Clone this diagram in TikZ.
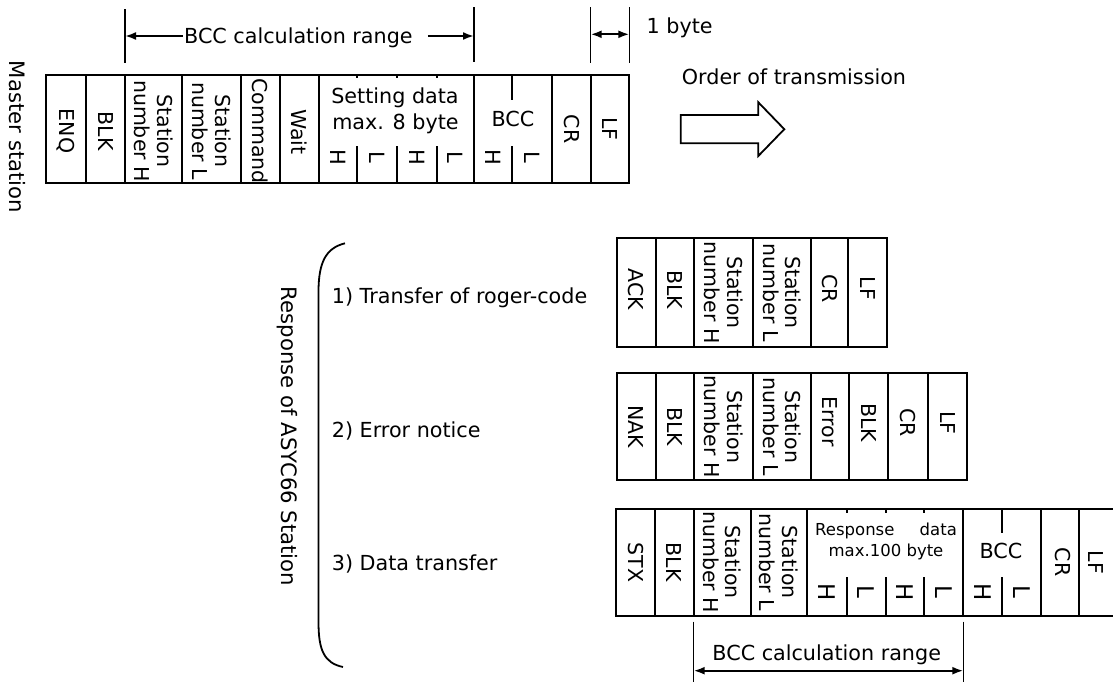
\documentclass[tikz,border=0pt]{standalone}
\usepackage{fontspec}
\setmainfont{DejaVu Sans}
\usetikzlibrary{arrows.meta,calc}

\tikzset{
  cellbox/.style={draw, line width=2pt, inner sep=0pt, outer sep=0pt},
  subline/.style={line width=2pt},
  vtext/.style={rotate=-90, align=center, inner sep=0pt, font=\fontsize{20.5}{22.7}\selectfont},
  vtitle/.style={rotate=-90, inner sep=0pt, font=\fontsize{21.2}{24}\selectfont},
  vsmall/.style={rotate=-90, inner sep=0pt, font=\fontsize{21}{24}\selectfont},
  vmid/.style={rotate=-90, inner sep=0pt, font=\fontsize{23}{26}\selectfont},
  htext/.style={inner sep=0pt, font=\fontsize{20.7}{24}\selectfont},
  hsmall/.style={inner sep=0pt, font=\fontsize{16.5}{20}\selectfont},
  rangeline/.style={line width=1.4pt},
  onearrow/.style={line width=2pt, -{Latex[length=11pt,width=8pt]}},
  twoarrow/.style={line width=2pt, {Latex[length=11pt,width=8pt]}-{Latex[length=11pt,width=8pt]}},
  bracepath/.style={line width=1.8pt},
  hollowarrow/.style={line width=1.8pt, line join=miter},
}

% one field of a telegram: name, left, top, right, bottom
\newcommand\fieldcell[5]{%
  \node[cellbox, anchor=north west,
        minimum width={(#4-#2)*1pt}, minimum height={(#5-#3)*1pt}] (#1) at (#2,#3) {};}

\begin{document}
\begin{tikzpicture}[x=1pt,y=-1pt]
\clip (0,0) rectangle (1113,682);

% ---------------- master station telegram ----------------
\node[vtitle, anchor=base] (mastT) at (9.5,137) {Master station};

\fieldcell{enq}{45.7}{75}{86}{183}
\fieldcell{blk}{86}{75}{125}{183}
\fieldcell{snh}{125}{75}{182.3}{183}
\fieldcell{snl}{182.3}{75}{241}{183}
\fieldcell{cmd}{241}{75}{280}{183}
\fieldcell{wait}{280}{75}{319}{183}
\fieldcell{sdata}{319}{75}{474}{183}
\fieldcell{bcc}{474}{75}{552.3}{183}
\fieldcell{cr}{552.3}{75}{590.7}{183}
\fieldcell{lf}{590.7}{75}{629.3}{183}

\node[vtext] (enqT) at ($(enq.center)+(0,2)$) {ENQ};
\node[vtext] (blkT) at ($(blk.center)+(0,2)$) {BLK};
\node[vtext] (snhT) at ($(snh.center)+(0,2)$) {Station\\number H};
\node[vtext] (snlT) at ($(snl.center)+(0,2)$) {Station\\number L};
\node[vtext] (cmdT) at ($(cmd.center)+(0,2)$) {Command};
\node[vtext] (waitT) at ($(wait.center)+(0,3)$) {Wait};
\node[htext, anchor=base] (sdT1) at (395,104) {Setting data};
\node[htext, anchor=base] (sdT2) at (395.5,130) {max. 8 byte};
\node[htext, anchor=base] (bccT) at (513,126.7) {BCC};
\node[vtext] (crT) at (cr.center) {CR};
\node[vtext] (lfT) at (lf.center) {LF};

% H/L halves of the data and BCC fields
\foreach \xx in {357.3,396.7,436.7} {
  \draw[subline] (\xx,146) -- (\xx,183);
  \draw[subline] (\xx,75) -- (\xx,78.5);
}
\draw[subline] (512.3,75) -- (512.3,100);
\draw[subline] (512.3,146) -- (512.3,183);
\node[vsmall] (sdH1) at (338.2,157) {H};
\node[vsmall] (sdL1) at (377,157) {L};
\node[vsmall] (sdH2) at (416.7,157) {H};
\node[vsmall] (sdL2) at (455.3,157) {L};
\node[vsmall] (bcH) at (493.2,157) {H};
\node[vsmall] (bcL) at (532.3,157) {L};

% BCC calculation range above the telegram
\coordinate (rgA) at ($(snh.north west)+(0,-12)$);
\coordinate (rgB) at ($(sdata.north east)+(0,-13)$);
\draw[rangeline] (rgA) -- ++(0,-54);
\draw[rangeline] (rgB) -- ++(0,-55);
\node[htext, anchor=base] (rangeT) at (298.4,43.3) {BCC calculation range};
\coordinate (rgAl) at (125,36);
\coordinate (rgBl) at (474,36);
\draw[onearrow] ([xshift=-1pt]rangeT.west |- rgAl) -- (rgAl);
\draw[onearrow] ([xshift=15pt]rangeT.east |- rgBl) -- (rgBl);

% one byte width
\coordinate (byA) at ($(lf.north west)+(0,-12)$);
\coordinate (byB) at ($(lf.north east)+(0,-12)$);
\draw[rangeline] (byA) -- ++(0,-56);
\draw[rangeline] (byB) -- ++(0,-56);
\coordinate (byAl) at (590.7,34.3);
\coordinate (byBl) at (629.3,34.3);
\draw[twoarrow] (byAl) -- (byBl);
\node[htext, anchor=base west] (byteT) at (646.5,33.3) {1 byte};

% order of transmission
\node[htext, anchor=base west] (orderT) at (681.7,85) {Order of transmission};
\draw[hollowarrow] (680.7,115) -- (758.3,115) -- (758.3,102.3) -- (784.3,129.2)
  -- (758.3,156) -- (758.3,143.3) -- (680.7,143.3) -- cycle;

% ---------------- responses of the station ----------------
\node[vtitle, anchor=base] (respT) at (281.7,436.5) {Response of ASYC66 Station};
\draw[bracepath] (345,243.3) .. controls (326,248) and (318.5,262) .. (318.5,292)
  -- (318.5,622) .. controls (318.5,650) and (324,663) .. (343,667);

\node[htext, anchor=base west] (case1) at (331.7,303) {1) Transfer of roger-code};
\node[htext, anchor=base west] (case2) at (331.7,437.3) {2) Error notice};
\node[htext, anchor=base west] (case3) at (331.7,570) {3) Data transfer};

% 1) acknowledge
\fieldcell{ack}{616.7}{238.3}{656}{346.7}
\fieldcell{blkA}{656}{238.3}{694.3}{346.7}
\fieldcell{snhA}{694.3}{238.3}{753.3}{346.7}
\fieldcell{snlA}{753.3}{238.3}{811}{346.7}
\fieldcell{crA}{811}{238.3}{848.3}{346.7}
\fieldcell{lfA}{848.3}{238.3}{886.7}{346.7}
\node[vtext] (ackT) at ($(ack.center)+(0,-3)$) {ACK};
\node[vtext] (blkAT) at ($(blkA.center)+(0,-3)$) {BLK};
\node[vtext] (snhAT) at (snhA.center) {Station\\number H};
\node[vtext] (snlAT) at (snlA.center) {Station\\number L};
\node[vtext] (crAT) at ($(crA.center)+(0,-4)$) {CR};
\node[vtext] (lfAT) at ($(lfA.center)+(0,-4)$) {LF};

% 2) error notice
\fieldcell{nak}{616.7}{373.3}{656}{480}
\fieldcell{blkN}{656}{373.3}{694.3}{480}
\fieldcell{snhN}{694.3}{373.3}{753.3}{480}
\fieldcell{snlN}{753.3}{373.3}{811}{480}
\fieldcell{errN}{811}{373.3}{849.3}{480}
\fieldcell{blkN2}{849.3}{373.3}{888.3}{480}
\fieldcell{crN}{888.3}{373.3}{928.3}{480}
\fieldcell{lfN}{928.3}{373.3}{966.7}{480}
\node[vtext] (nakT) at (nak.center) {NAK};
\node[vtext] (blkNT) at (blkN.center) {BLK};
\node[vtext] (snhNT) at (snhN.center) {Station\\number H};
\node[vtext] (snlNT) at (snlN.center) {Station\\number L};
\node[vtext] (errNT) at ($(errN.center)+(0,-5)$) {Error};
\node[vtext] (blkN2T) at ($(blkN2.center)+(0,-4)$) {BLK};
\node[vtext] (crNT) at ($(crN.center)+(0,-4)$) {CR};
\node[vtext] (lfNT) at ($(lfN.center)+(0,-4)$) {LF};

% 3) data transfer
\fieldcell{stx}{616}{508.5}{655}{616}
\fieldcell{blkD}{655}{508.5}{693.7}{616}
\fieldcell{snhD}{693.7}{508.5}{750.8}{616}
\fieldcell{snlD}{750.8}{508.5}{806.7}{616}
\fieldcell{rdata}{806.7}{508.5}{963.3}{616}
\fieldcell{bccD}{963.3}{508.5}{1041}{616}
\fieldcell{crD}{1041}{508.5}{1079.3}{616}
\fieldcell{lfD}{1079.3}{508.5}{1120}{616}
\node[vtext] (stxT) at (stx.center) {STX};
\node[vtext] (blkDT) at (blkD.center) {BLK};
\node[vtext] (snhDT) at (snhD.center) {Station\\number H};
\node[vtext] (snlDT) at (snlD.center) {Station\\number L};
\node[hsmall, anchor=base west, text width=141.7pt] (rdT1) at (815,535) {Response\hfill data};
\node[hsmall, anchor=base] (rdT2) at (886,556.7) {max.100 byte};
\node[htext, anchor=base] (bccDT) at (1001,558.3) {BCC};
\node[vtext] (crDT) at ($(crD.center)+(3,0)$) {CR};
\node[vtext] (lfDT) at ($(lfD.center)+(-4,0)$) {LF};

\foreach \xx in {846.7,885.7,924.3} {
  \draw[subline] (\xx,577.3) -- (\xx,616);
  \draw[subline] (\xx,508.5) -- (\xx,513);
}
\draw[subline] (1002.3,508.5) -- (1002.3,533);
\draw[subline] (1002.3,577.3) -- (1002.3,616);
\node[vmid] (rdH1) at (826.7,592) {H};
\node[vmid] (rdL1) at (866.2,592) {L};
\node[vmid] (rdH2) at (905,592) {H};
\node[vmid] (rdL2) at (943.8,592) {L};
\node[vmid] (bcDH) at (982.8,592) {H};
\node[vmid] (bcDL) at (1021.7,592) {L};

% BCC calculation range below the data telegram
\coordinate (rgC) at ($(snhD.south west)+(0,5.7)$);
\coordinate (rgD) at ($(rdata.south east)+(0,5.7)$);
\draw[rangeline] (rgC) -- ++(0,70);
\draw[rangeline] (rgD) -- ++(0,70);
\coordinate (rgCl) at (693.7,670.7);
\coordinate (rgDl) at (963.3,670.7);
\draw[twoarrow] (rgCl) -- (rgDl);
\node[htext, anchor=base] (rangeDT) at (826.7,660) {BCC calculation range};

\end{tikzpicture}
\end{document}
